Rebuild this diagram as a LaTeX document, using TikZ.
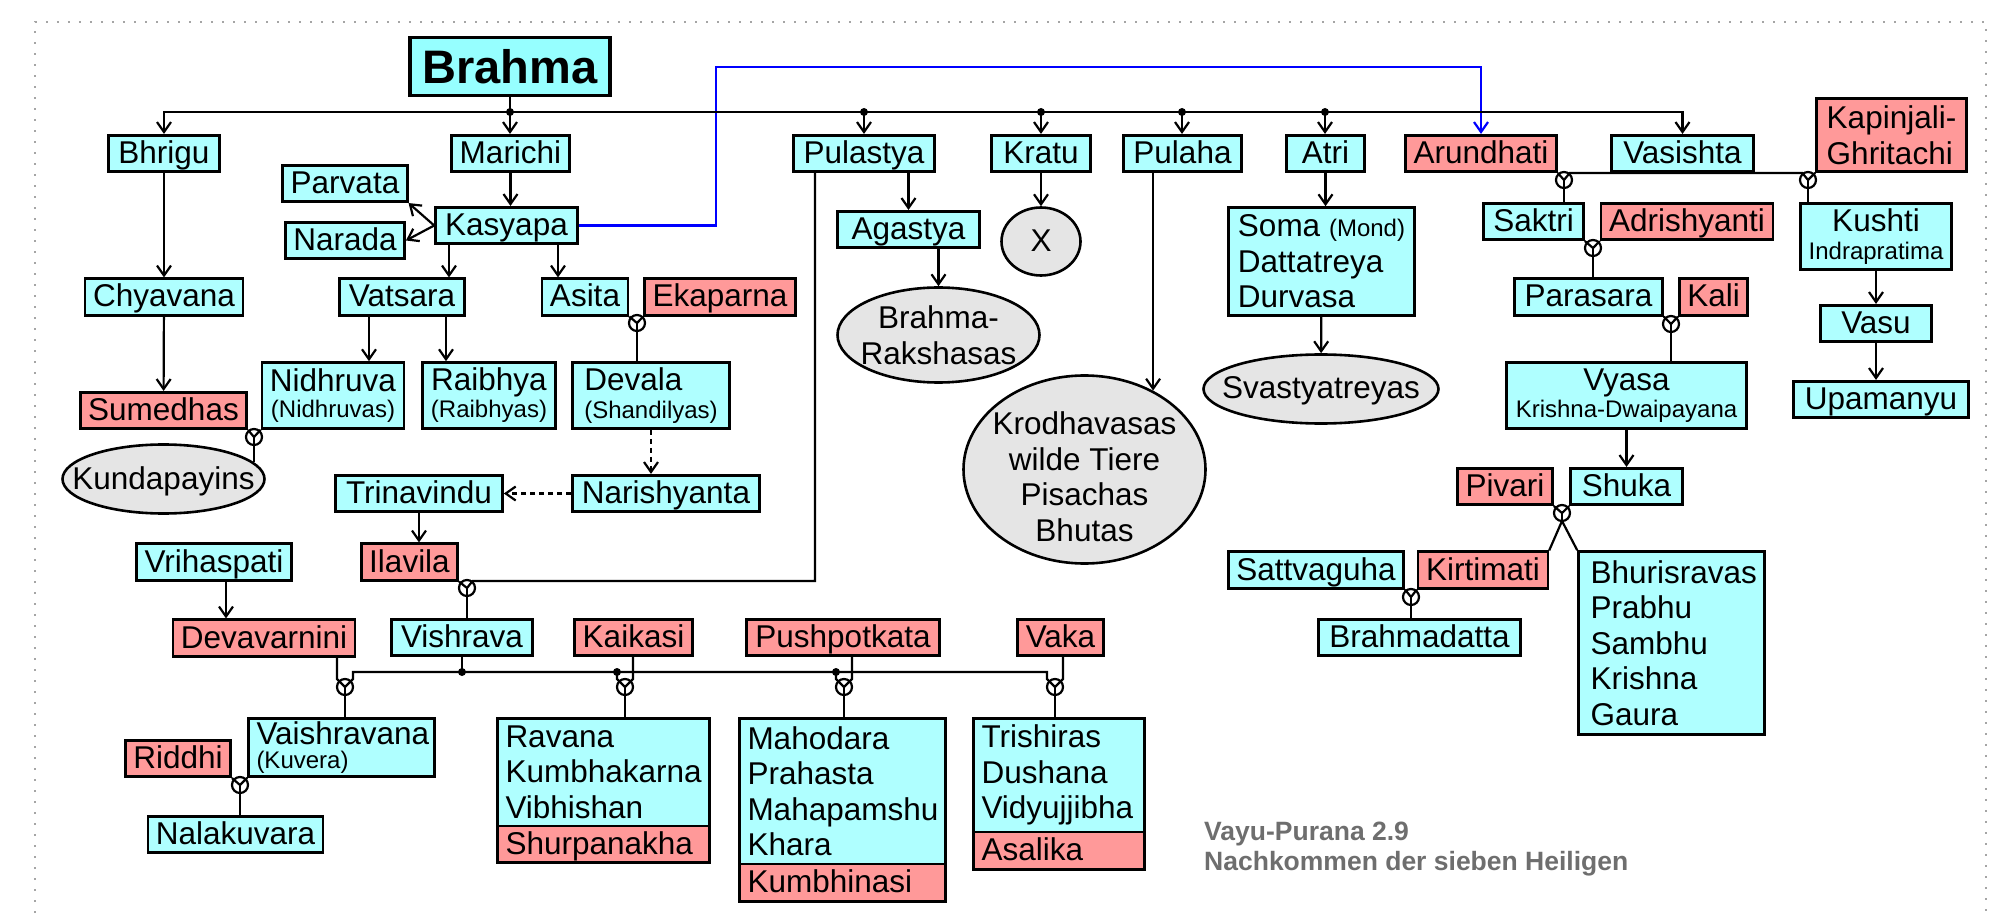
\documentclass[tikz,border=0pt]{standalone}
\usepackage{fontspec}
\setmainfont{Liberation Sans}
\usetikzlibrary{arrows.meta,shapes.geometric}

\definecolor{sky}{RGB}{175,255,255}
\definecolor{skydeep}{RGB}{150,255,255}
\definecolor{rose}{RGB}{255,153,153}
\definecolor{mist}{RGB}{229,229,229}
\definecolor{slate}{RGB}{110,110,110}
\definecolor{fencegray}{RGB}{165,165,165}

\newcommand\gross{\fontsize{31.5}{35.5}\selectfont}
\newcommand\klein{\fontsize{24}{27}\selectfont}

\begin{document}
\begin{tikzpicture}[x=1pt,y=-1pt]
    \tikzstyle{cell}=[draw, line width=2.6pt, inner xsep=8pt, inner ysep=0pt, minimum height=36.5pt, font=\gross]
    \tikzstyle{man}=[cell, fill=sky]
    \tikzstyle{woman}=[cell, fill=rose]
    \tikzstyle{one}=[text height=25pt, text depth=5pt]
    \tikzstyle{kin}=[ellipse, draw, line width=2.6pt, fill=mist, font=\gross, inner sep=-40pt, align=center]
    \tikzstyle{wed}=[circle, draw, line width=2.2pt, minimum size=16pt, inner sep=0pt, outer sep=0pt]
    \tikzstyle{knot}=[circle, fill, inner sep=0pt, minimum size=8pt]
    \tikzstyle{wire}=[line width=2.2pt]
    \tikzstyle{arr}=[wire, -{Straight Barb[length=10pt,width=14pt]}]
    \tikzstyle{fence}=[draw=fencegray, line width=2.4pt, dash pattern=on 2.4pt off 8.6pt]
    \useasboundingbox (0,0) rectangle (2006,917);
    \draw[fence] (35,935) -- (35,22) -- (1986,22) -- (1986,935);

    \node[cell, fill=skydeep, line width=3.4pt, minimum width=200, minimum height=58, font=\fontsize{47}{50}\selectfont\bfseries] (brahma) at (510,66.5) {Brahma};

    \node[man, one, minimum width=111] (bhrigu) at (164,153.5) {Bhrigu};
    \node[man, one, minimum width=112] (marichi) at (510.5,153.5) {Marichi};
    \node[man, one, minimum width=141] (pulastya) at (864,153.5) {Pulastya};
    \node[man, one, minimum width=99] (kratu) at (1041,153.5) {Kratu};
    \node[man, one, minimum width=118] (pulaha) at (1182.5,153.5) {Pulaha};
    \node[man, one, minimum width=78] (atri) at (1325.5,153.5) {Atri};
    \node[woman, one, minimum width=151] (arundhati) at (1481,153.5) {Arundhati};
    \node[man, one, minimum width=142] (vasishta) at (1682.5,153.5) {Vasishta};
    \node[woman, align=left, minimum width=150, minimum height=73] (kapinjali) at (1891.5,135) {Kapinjali-\\Ghritachi};

    \node[man, one, minimum width=119] (parvata) at (345,183.5) {Parvata};
    \node[man, one, minimum width=119] (narada) at (345,240.5) {Narada};
    \node[man, one, minimum width=142] (kasyapa) at (506.5,225.5) {Kasyapa};
    \node[man, one, minimum width=142] (agastya) at (908.5,229.5) {Agastya};
    \node[kin, one, minimum width=79, minimum height=68] (kratuX) at (1041,241.5) {X};
    \node[man, one, minimum width=100] (saktri) at (1533.5,221.5) {Saktri};
    \node[woman, one, minimum width=171] (adrishyanti) at (1687,221.5) {Adrishyanti};
    \node[man, align=center, minimum width=149, minimum height=66] (kushti) at (1876,236.5) {Kushti\\[-7pt]{\klein Indrapratima}};
    \node[man, align=left, minimum width=186, minimum height=108] (soma) at (1321.5,261.5) {Soma {\klein (Mond)}\\Dattatreya\\Durvasa};

    \node[man, one, minimum width=157] (chyavana) at (164,297) {Chyavana};
    \node[man, one, minimum width=125] (vatsara) at (402,297) {Vatsara};
    \node[man, one, minimum width=85] (asita) at (585,297) {Asita};
    \node[woman, one, minimum width=149] (ekaparna) at (720,297) {Ekaparna};
    \node[man, one, minimum width=148] (parasara) at (1588.5,297) {Parasara};
    \node[woman, one, minimum width=64] (kali) at (1713.5,297) {Kali};
    \node[man, one, minimum width=111] (vasu) at (1876,323.5) {Vasu};
    \node[man, one, minimum width=175] (upamanyu) at (1881,399.5) {Upamanyu};

    \node[kin, minimum width=202, minimum height=95] (rakshasas) at (938.5,335) {Brahma-\\Rakshasas};
    \node[kin, one, minimum width=235, minimum height=69] (svastya) at (1321,389) {Svastyatreyas};
    \node[woman, one, minimum width=164] (sumedhas) at (163.5,410.5) {Sumedhas};
    \node[man, align=center, minimum width=141, minimum height=66] (nidhruva) at (333,395.5) {Nidhruva\\[-9pt]{\klein (Nidhruvas)}};
    \node[man, align=center, minimum width=133, minimum height=66] (raibhya) at (489,395.5) {Raibhya\\[-8.5pt]{\klein (Raibhyas)}};
    \node[man, align=left, minimum width=157, minimum height=66] (devala) at (651,395.5) {Devala\\[-7.5pt]{\klein (Shandilyas)}};
    \node[man, align=center, minimum width=240, minimum height=66] (vyasa) at (1626.5,395.5) {Vyasa\\[-8.5pt]{\klein Krishna-Dwaipayana}};
    \node[kin, one, minimum width=202, minimum height=69] (kunda) at (163.5,479) {Kundapayins};
    \node[kin, text height=143pt, text depth=0pt, minimum width=242, minimum height=188] (krodha) at (1084.5,469.5) {Krodhavasas\\wilde Tiere\\Pisachas\\Bhutas};

    \node[man, one, minimum width=167] (trinavindu) at (419,493.5) {Trinavindu};
    \node[man, one, minimum width=187] (narishyanta) at (666,493.5) {Narishyanta};
    \node[woman, one, minimum width=95] (pivari) at (1505,486.5) {Pivari};
    \node[man, one, minimum width=112] (shuka) at (1626.5,486.5) {Shuka};
    \node[man, one, minimum width=155] (vrihaspati) at (214,562) {Vrihaspati};
    \node[woman, one, minimum width=94] (ilavila) at (409.5,562) {Ilavila};
    \node[man, one, minimum width=171] (sattvaguha) at (1316,570) {Sattvaguha};
    \node[woman, one, minimum width=127] (kirtimati) at (1483,570) {Kirtimati};
    \node[man, align=left, text width=162, inner xsep=12, minimum height=183] (bhuris) at (1671.5,643) {Bhurisravas\\Prabhu\\Sambhu\\Krishna\\Gaura};
    \node[man, one, minimum width=202] (brahmadatta) at (1419.5,637.5) {Brahmadatta};

    \node[woman, one, minimum width=181] (devavarnini) at (264,638) {Devavarnini};
    \node[man, one, minimum width=141] (vishrava) at (462,637.5) {Vishrava};
    \node[woman, one, minimum width=118] (kaikasi) at (633.5,637.5) {Kaikasi};
    \node[woman, one, minimum width=193] (pushpotkata) at (843,637.5) {Pushpotkata};
    \node[woman, one, minimum width=80] (vaka) at (1060.5,637.5) {Vaka};

    \node[man, align=left, text width=170, minimum height=58] (vaishra) at (341.5,747.5) {Vaishravana\\[-11pt]{\klein (Kuvera)}};
    \node[woman, one, minimum width=105] (riddhi) at (178,758.5) {Riddhi};
    \node[man, one, minimum width=172] (nalakuvara) at (235.5,834.5) {Nalakuvara};
    \node[man, align=left, text width=196, minimum height=107.7] (ravana) at (603.5,772.15) {Ravana\\Kumbhakarna\\Vibhishan};
    \node[woman, one, align=left, text width=196, minimum height=36.7] (shurpa) at (603.5,844.35) {Shurpanakha};
    \node[man, align=left, text width=190, minimum height=145.7] (mahodara) at (842.5,791.15) {Mahodara\\Prahasta\\Mahapamshu\\Khara};
    \node[woman, one, align=left, text width=190, minimum height=37.7] (kumbhinasi) at (842.5,882.85) {Kumbhinasi};
    \node[man, align=left, text width=155, minimum height=113.7] (trishiras) at (1059,775.15) {Trishiras\\Dushana\\Vidyujjibha};
    \node[woman, one, align=left, text width=155, minimum height=37.7] (asalika) at (1059,850.85) {Asalika};

    \node[anchor=north west, inner sep=0pt, align=left, text=slate, font=\fontsize{26.5}{30}\selectfont\bfseries] (source) at (1204,822) {Vayu-Purana 2.9\\Nachkommen der sieben Heiligen};

    \node[wed] (wArVa) at (1564,180) {};
    \node[wed] (wVaKa) at (1808,180) {};
    \node[wed] (wSaAd) at (1593,248) {};
    \node[wed] (wPaKa) at (1671,324) {};
    \node[wed] (wPiSh) at (1562,513) {};
    \node[wed] (wSaKi) at (1411,597) {};
    \node[wed] (wAsEk) at (637,323) {};
    \node[wed] (wSuNi) at (254,437) {};
    \node[wed] (wIlPu) at (467,588) {};
    \node[wed] (wDeVi) at (345,687) {};
    \node[wed] (wKaRa) at (625,687) {};
    \node[wed] (wPuMa) at (844,687) {};
    \node[wed] (wVaTr) at (1055,687) {};
    \node[wed] (wRiVa) at (240,785) {};

    \coordinate (bend) at (716,67);
    \coordinate (knee) at (815,581);
    \draw[arr, draw=blue] (kasyapa.east) -| (bend) -| (arundhati.north);

    \node[knot] (dMa) at (510,112) {};
    \node[knot] (dPu) at (864,112) {};
    \node[knot] (dKr) at (1041,112) {};
    \node[knot] (dPh) at (1182,112) {};
    \node[knot] (dAt) at (1325,112) {};
    \node[knot] (dVi) at (462,672) {};
    \node[knot] (dKa) at (617,672) {};
    \node[knot] (dPs) at (836,672) {};

    \draw[wire] (brahma.south) -- (dMa.center);
    \draw[wire] (dMa.center) -- (dAt.center);
    \draw[arr] (dMa.center) -| (bhrigu.north);
    \draw[arr] (dAt.center) -| (vasishta.north);
    \draw[arr] (dMa.center) -- (dMa |- marichi.north);
    \draw[arr] (dPu.center) -- (dPu |- pulastya.north);
    \draw[arr] (dKr.center) -- (dKr |- kratu.north);
    \draw[arr] (dPh.center) -- (dPh |- pulaha.north);
    \draw[arr] (dAt.center) -- (dAt |- atri.north);

    \draw[arr] (marichi.south) -- (marichi.south |- kasyapa.north);
    \draw[arr] (kasyapa.west) -- (parvata.south east);
    \draw[arr] (kasyapa.west) -- (narada.east);
    \draw[arr] ([xshift=-57.5]kasyapa.south) -- ([xshift=47]vatsara.north);
    \draw[arr] ([xshift=51.5]kasyapa.south) -- ([xshift=-27]asita.north);
    \draw[arr] (bhrigu) -- (chyavana);
    \draw[arr] (chyavana) -- (sumedhas);
    \draw[arr] ([xshift=-33]vatsara.south) -- ([xshift=36]nidhruva.north);
    \draw[arr] ([xshift=44]vatsara.south) -- ([xshift=-43]raibhya.north);
    \draw[wire] (asita.south east) -- (wAsEk.center) -- (ekaparna.south west);
    \draw[wire] (wAsEk.center) -- (wAsEk |- devala.north);
    \draw[arr, dash pattern=on 5pt off 4pt] (devala.south) -- (devala.south |- narishyanta.north);
    \draw[arr, dash pattern=on 5pt off 4pt] (narishyanta.west) -- (trinavindu.east);
    \draw[arr] (trinavindu.south) -- (trinavindu.south |- ilavila.north);
    \draw[wire] (sumedhas.south east) -- (wSuNi.center) -- (nidhruva.south west);
    \draw[wire] (wSuNi.center) -- (wSuNi |- kunda.11);

    \draw[arr] (agastya.north |- pulastya.south) -- (agastya.north);
    \draw[arr] (rakshasas.north |- agastya.south) -- (rakshasas.north);
    \draw[arr] (kratu) -- (kratuX);
    \draw[wire] (pulastya.south -| knee) -- (knee) -- (wIlPu.north east |- knee) -- (wIlPu.center) -- (ilavila.south east);
    \draw[wire] (wIlPu.center) -- (wIlPu |- vishrava.north);
    \draw[arr] (krodha.49 |- pulaha.south) -- (krodha.49);
    \draw[arr] (atri.south) -- (atri.south |- soma.north);
    \draw[arr] (soma) -- (svastya);

    \draw[wire] (arundhati.south east) -- (wArVa.center) -- (wArVa.north east |- vasishta.south) -- (wVaKa.north west |- vasishta.south) -- (wVaKa.center) -- (kapinjali.south west);
    \draw[wire] (wArVa.center) -- (wArVa |- saktri.north);
    \draw[wire] (wVaKa.center) -- (wVaKa |- kushti.north);
    \draw[wire] (saktri.south east) -- (wSaAd.center) -- (adrishyanti.south west);
    \draw[wire] (wSaAd.center) -- (wSaAd |- parasara.north);
    \draw[wire] (parasara.south east) -- (wPaKa.center) -- (kali.south west);
    \draw[wire] (wPaKa.center) -- (wPaKa |- vyasa.north);
    \draw[arr] (kushti) -- (vasu);
    \draw[arr] (vasu.south) -- (vasu.south |- upamanyu.north);
    \draw[arr] (vyasa) -- (shuka);
    \draw[wire] (pivari.south east) -- (wPiSh.center) -- (shuka.south west);
    \draw[wire] (wPiSh.center) -- (wPiSh.south);
    \draw[wire] (kirtimati.north east) -- (wPiSh.south) -- (bhuris.north west);
    \draw[wire] (sattvaguha.south east) -- (wSaKi.center) -- (kirtimati.south west);
    \draw[wire] (wSaKi.center) -- (wSaKi |- brahmadatta.north);

    \draw[arr] ([xshift=12]vrihaspati.south) -- ([xshift=12]vrihaspati.south |- devavarnini.north);
    \draw[wire] (vishrava.south) -- (dVi.center);
    \draw[wire] (wDeVi.center) -- ([xshift=8]wDeVi.north) -- ([xshift=8]wDeVi.north |- dVi) -- ([xshift=-8]wVaTr.north |- dVi) -- ([xshift=-8]wVaTr.north) -- (wVaTr.center);
    \draw[wire] ([xshift=-8]wDeVi.north |- devavarnini.south) -- ([xshift=-8]wDeVi.north) -- (wDeVi.center);
    \draw[wire] ([xshift=8]wKaRa.north |- kaikasi.south) -- ([xshift=8]wKaRa.north) -- (wKaRa.center);
    \draw[wire] (dKa.center) -- ([xshift=-8]wKaRa.north) -- (wKaRa.center);
    \draw[wire] ([xshift=8]wPuMa.north |- pushpotkata.south) -- ([xshift=8]wPuMa.north) -- (wPuMa.center);
    \draw[wire] (dPs.center) -- ([xshift=-8]wPuMa.north) -- (wPuMa.center);
    \draw[wire] ([xshift=8]wVaTr.north |- vaka.south) -- ([xshift=8]wVaTr.north) -- (wVaTr.center);
    \draw[wire] (wDeVi.center) -- (wDeVi |- vaishra.north);
    \draw[wire] (wKaRa.center) -- (wKaRa |- ravana.north);
    \draw[wire] (wPuMa.center) -- (wPuMa |- mahodara.north);
    \draw[wire] (wVaTr.center) -- (wVaTr |- trishiras.north);
    \draw[wire] (riddhi.south east) -- (wRiVa.center) -- (vaishra.south west);
    \draw[wire] (wRiVa.center) -- (wRiVa |- nalakuvara.north);
\end{tikzpicture}
\end{document}
